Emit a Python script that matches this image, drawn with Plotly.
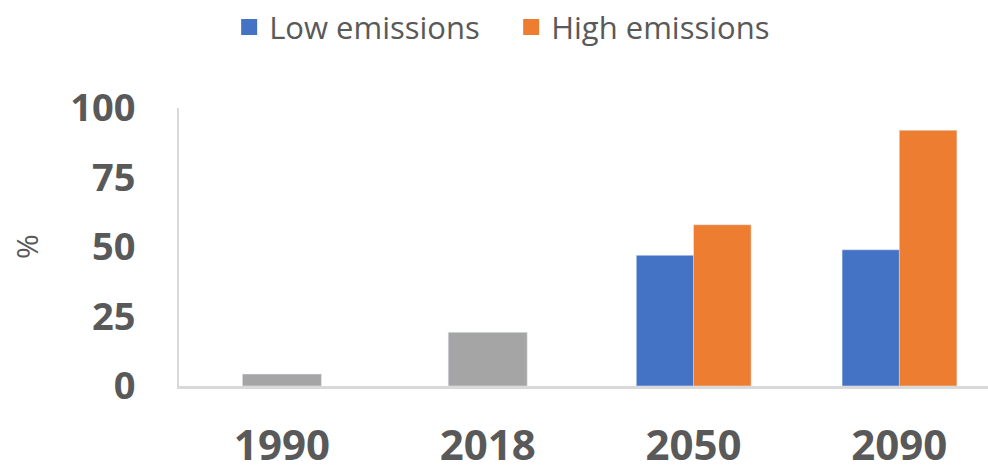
import plotly.graph_objects as go

# Share of the year (%) by period and scenario
years = ["1990", "2018", "2050", "2090"]
observed = [4.3, 19.3, None, None]
low_emissions = [None, None, 47, 49]
high_emissions = [None, None, 58, 92]
y_ticks = [0, 25, 50, 75, 100]

BLUE = "#4472C4"
ORANGE = "#ED7D31"
GREY = "#A5A5A5"
TEXT = "#595959"
AXIS = "#D9D9D9"
FONT = "Open Sans"

fig = go.Figure()

fig.add_trace(go.Bar(x=years, y=observed, marker_color=GREY, width=0.384,
                     offset=-0.192, showlegend=False))
fig.add_trace(go.Bar(x=years, y=low_emissions, marker_color=BLUE, width=0.28,
                     offset=-0.278, showlegend=False))
fig.add_trace(go.Bar(x=years, y=high_emissions, marker_color=ORANGE, width=0.28,
                     offset=0.0, showlegend=False))

# Legend entries with larger square swatches
for name, color in [("Low emissions", BLUE), ("High emissions", ORANGE)]:
    fig.add_trace(go.Scatter(x=[None], y=[None], mode="markers", name=name,
                             marker=dict(symbol="square", size=16, color=color)))

fig.update_layout(
    width=988, height=472,
    margin=dict(l=179, r=0, t=108, b=86, autoexpand=False),
    paper_bgcolor="white", plot_bgcolor="white",
    barmode="overlay",
    font=dict(family=FONT, color=TEXT),
    legend=dict(orientation="h", x=0.062, xanchor="left", y=1.29, yanchor="middle",
                font=dict(size=31, color=TEXT), itemsizing="trace",
                entrywidth=237, entrywidthmode="pixels",
                bgcolor="rgba(0,0,0,0)"),
    xaxis=dict(type="category", categoryorder="array", categoryarray=years,
               range=[-0.5, 3.431], showgrid=False, zeroline=False,
               showline=True, linecolor=AXIS, linewidth=3, automargin=False,
               ticks="", ticklabelstandoff=21,
               tickfont=dict(size=42, family=FONT, color=TEXT, weight="bold")),
    yaxis=dict(range=[0, 100], tickvals=y_ticks, showgrid=False, zeroline=False,
               showline=True, linecolor=AXIS, linewidth=2, automargin=False,
               ticks="", ticklabelstandoff=34,
               tickfont=dict(size=38, family=FONT, color=TEXT, weight="bold")),
    annotations=[dict(text="%", textangle=-90, xref="paper", yref="paper",
                      x=-0.189, y=0.5, xanchor="center", yanchor="middle",
                      showarrow=False, font=dict(size=30, color=TEXT, family=FONT))],
)

fig.write_html("out.html")
